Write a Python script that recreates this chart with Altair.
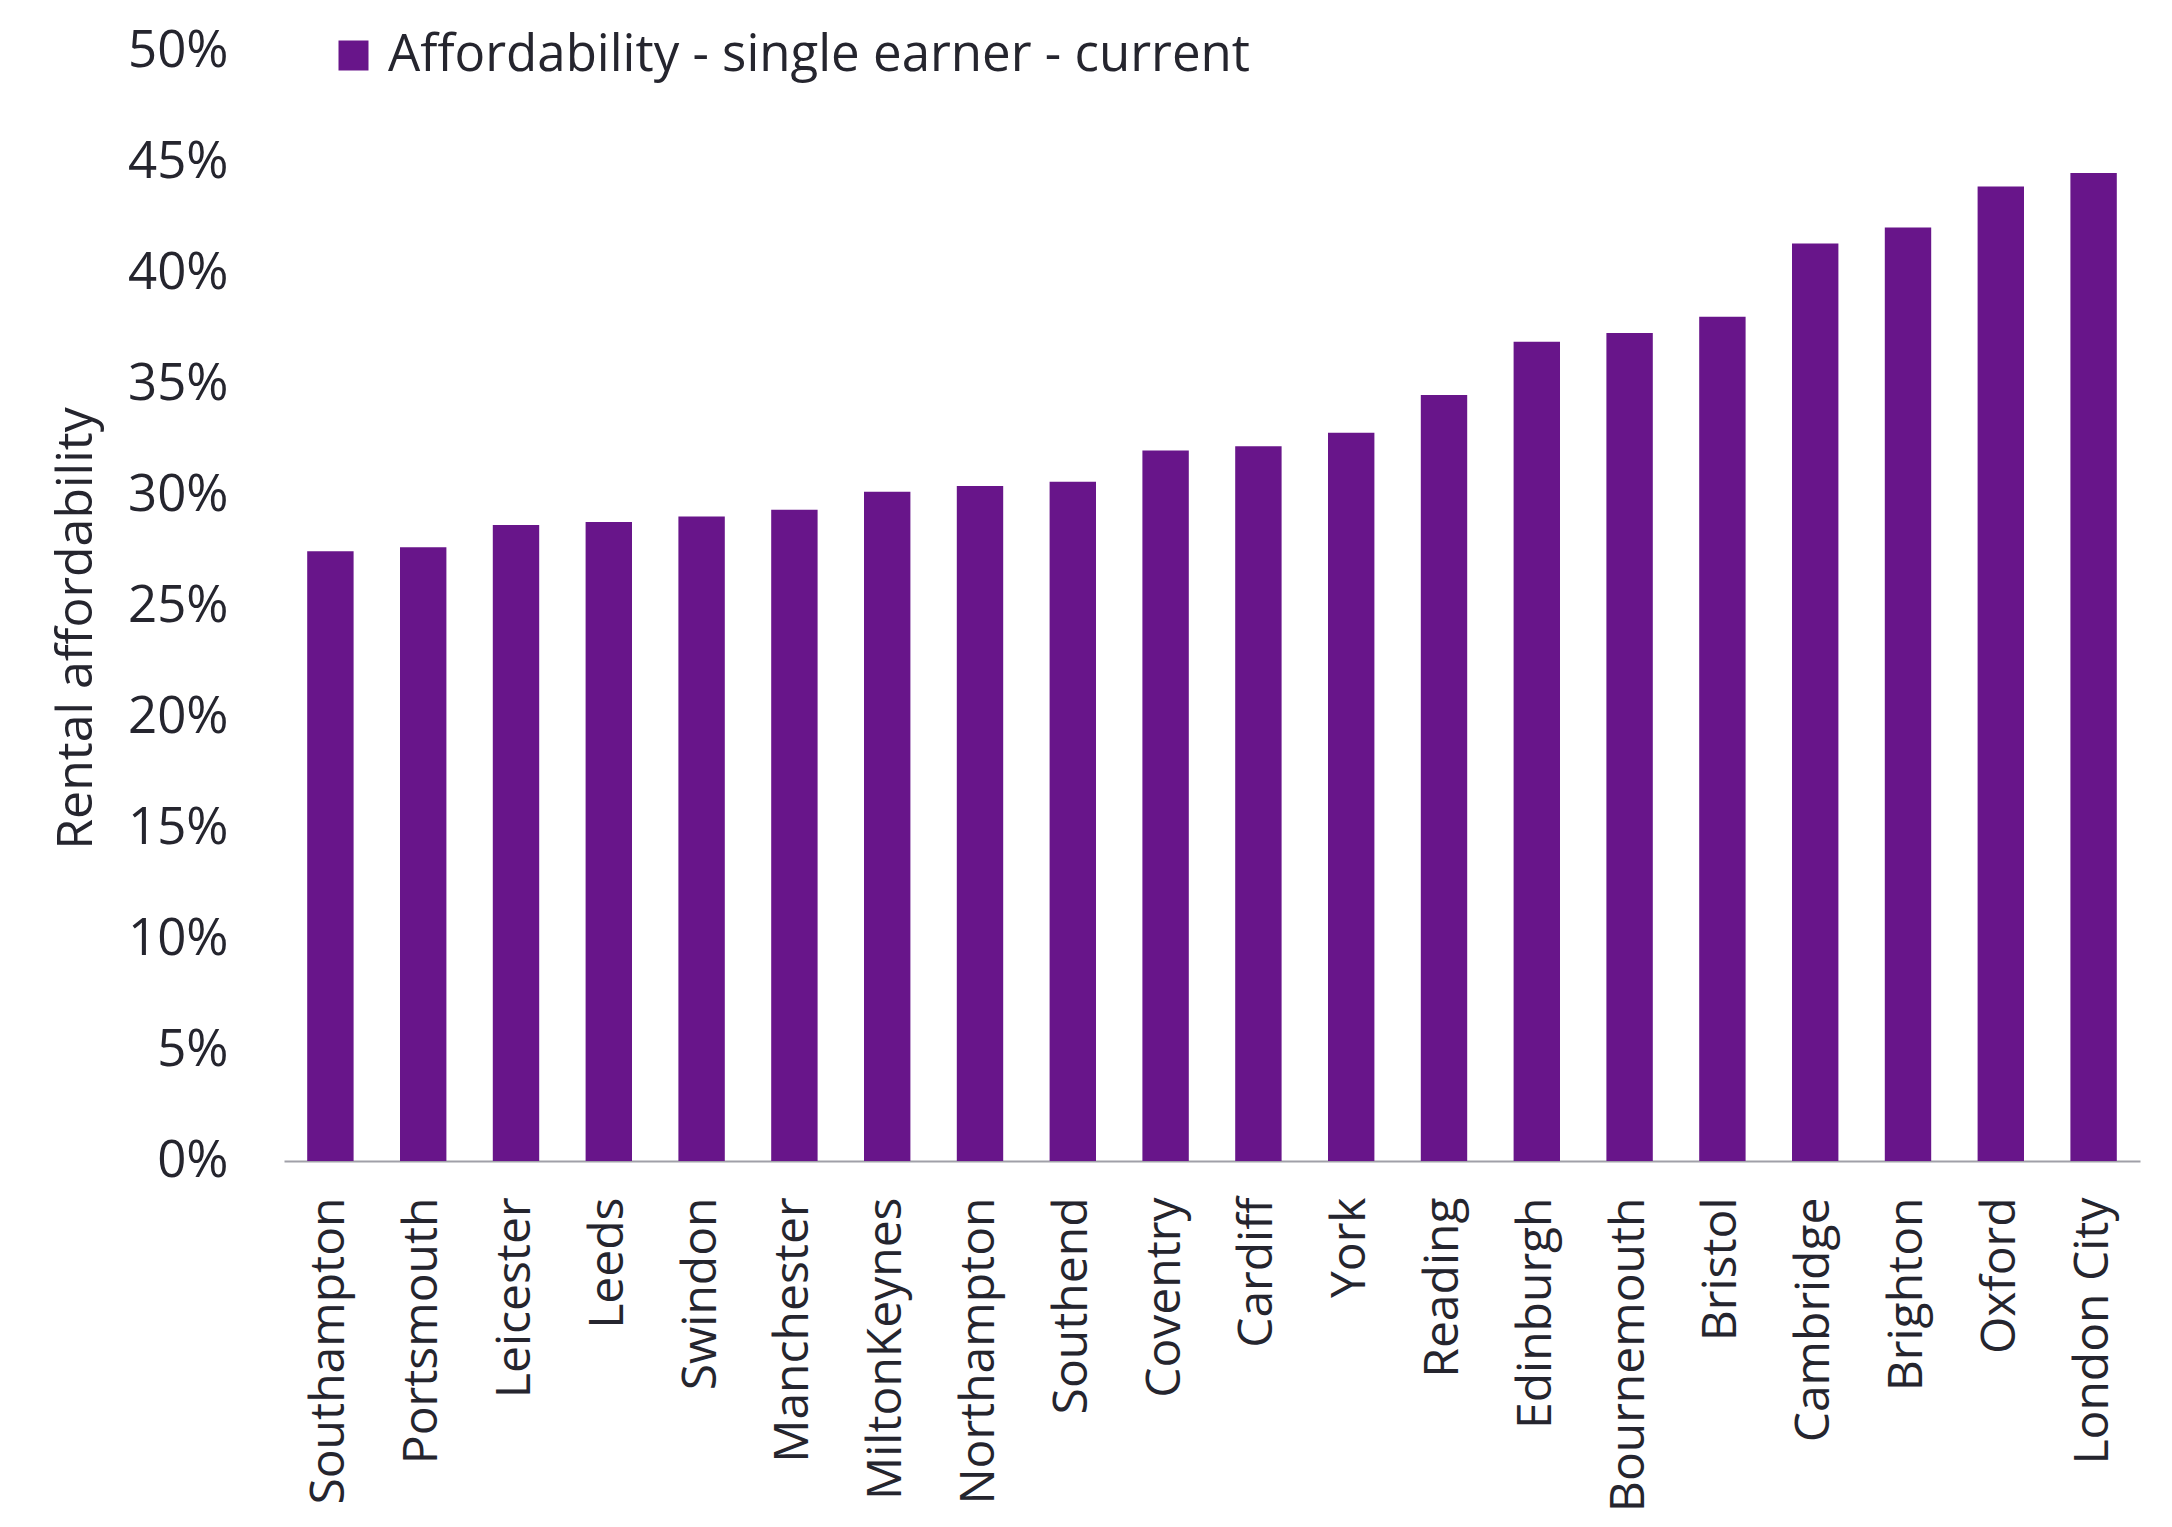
import altair as alt
import pandas as pd

cities = ["Southampton", "Portsmouth", "Leicester", "Leeds", "Swindon", "Manchester",
          "MiltonKeynes", "Northampton", "Southend", "Coventry", "Cardiff", "York",
          "Reading", "Edinburgh", "Bournemouth", "Bristol", "Cambridge", "Brighton",
          "Oxford", "London City"]
values = [0.2747, 0.2765, 0.2865, 0.2878, 0.2903, 0.2934, 0.3015, 0.3040, 0.3060,
          0.3200, 0.3220, 0.3280, 0.3450, 0.3690, 0.3730, 0.3803, 0.4133, 0.4205,
          0.4390, 0.4450]
series_name = "Affordability - single earner - current"
y_ticks = [0, 0.05, 0.10, 0.15, 0.20, 0.25, 0.30, 0.35, 0.40, 0.45, 0.50]

df = pd.DataFrame({"city": cities, "value": values, "series": [series_name] * len(cities)})

FONT = "Open Sans"
TEXT = "#25252E"
FS = 51

chart = alt.Chart(df).mark_bar(color="#68158A").encode(
    x=alt.X("city:N", sort=cities,
            scale=alt.Scale(paddingInner=0.5, paddingOuter=0.25),
            axis=alt.Axis(title=None, labelAngle=-90, labelPadding=36, ticks=False,
                          domainColor="#A0A0A8", domainWidth=2, labelFontSize=48,
                          labelFont=FONT, labelColor=TEXT, labelLimit=2000)),
    y=alt.Y("value:Q", scale=alt.Scale(domain=[0, 0.5], nice=False),
            axis=alt.Axis(title="Rental affordability", values=y_ticks, format=".0%",
                          grid=False, ticks=False, domain=False, labelPadding=56,
                          labelFontSize=FS, labelFont=FONT, labelColor=TEXT,
                          titleFontSize=50, titleFont=FONT, titleColor=TEXT,
                          titleFontWeight="normal", titleX=-208, titleY=577,
                          titleAngle=270, titleBaseline="middle", titleAlign="center")),
    color=alt.Color("series:N", scale=alt.Scale(range=["#68158A"]),
                    legend=alt.Legend(title=None, orient="none", legendX=44, legendY=-21,
                                      symbolType="square", symbolSize=900,
                                      symbolStrokeWidth=0, labelFontSize=FS,
                                      labelFont=FONT, labelColor=TEXT, labelOffset=9,
                                      padding=0, labelLimit=2000)),
).properties(
    width=1856, height=1110,
    autosize=alt.AutoSizeParams(type="none"),
    padding={"left": 276, "top": 43, "right": 24, "bottom": 366},
).configure_view(strokeWidth=0)

chart.save("out.html", embed_options={"renderer": "svg", "actions": False})
